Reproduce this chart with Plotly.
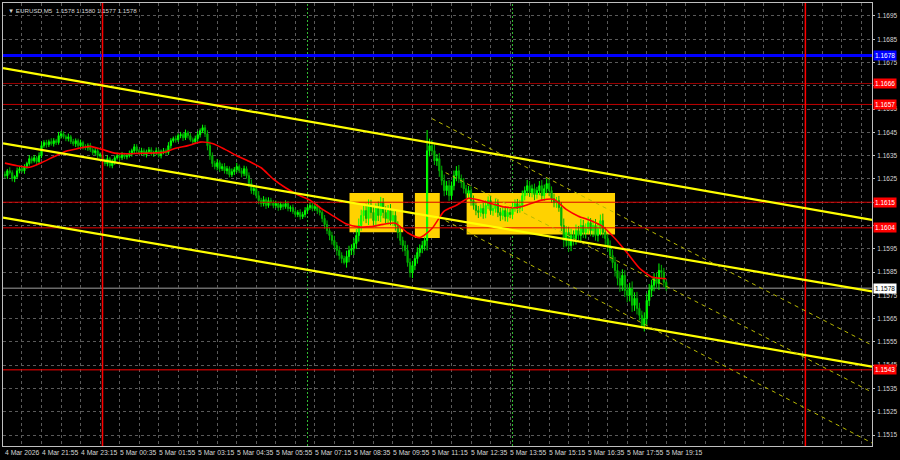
import plotly.graph_objects as go
import pandas as pd

# ---------------- data ----------------
FIRST_BAR = "2026-03-04 20:40"
BAR_MIN = 5
FIRST_OPEN = 1.16270

closes = [
    1.16264, 1.16285, 1.16277, 1.16251, 1.16260, 1.16285, 1.16294, 1.16285, 1.16303, 1.16316,
    1.16337, 1.16328, 1.16341, 1.16324, 1.16350, 1.16393, 1.16406, 1.16397, 1.16410, 1.16401,
    1.16414, 1.16406, 1.16436, 1.16444, 1.16431, 1.16423, 1.16431, 1.16410, 1.16401, 1.16414,
    1.16393, 1.16406, 1.16388, 1.16384, 1.16393, 1.16375, 1.16363, 1.16371, 1.16350, 1.16354,
    1.16328, 1.16316, 1.16337, 1.16307, 1.16324, 1.16341, 1.16350, 1.16341, 1.16354, 1.16345,
    1.16350, 1.16358, 1.16371, 1.16388, 1.16371, 1.16363, 1.16371, 1.16354, 1.16367, 1.16375,
    1.16358, 1.16363, 1.16371, 1.16350, 1.16367, 1.16371, 1.16363, 1.16393, 1.16414, 1.16423,
    1.16418, 1.16436, 1.16440, 1.16427, 1.16448, 1.16436, 1.16418, 1.16410, 1.16423, 1.16440,
    1.16457, 1.16470, 1.16444, 1.16393, 1.16350, 1.16316, 1.16303, 1.16320, 1.16294, 1.16303,
    1.16285, 1.16294, 1.16268, 1.16281, 1.16290, 1.16303, 1.16285, 1.16273, 1.16294, 1.16264,
    1.16230, 1.16200, 1.16208, 1.16178, 1.16157, 1.16144, 1.16161, 1.16136, 1.16157, 1.16148,
    1.16136, 1.16144, 1.16127, 1.16140, 1.16131, 1.16144, 1.16123, 1.16127, 1.16110, 1.16097,
    1.16106, 1.16088, 1.16097, 1.16114, 1.16127, 1.16136, 1.16123, 1.16131, 1.16114, 1.16106,
    1.16080, 1.16054, 1.16028, 1.16007, 1.15986, 1.15964, 1.15943, 1.15921, 1.15908, 1.15891,
    1.15917, 1.15943, 1.15951, 1.15973, 1.16007, 1.16050, 1.16093, 1.16114, 1.16080, 1.16136,
    1.16106, 1.16071, 1.16123, 1.16093, 1.16148, 1.16106, 1.16080, 1.16114, 1.16071, 1.16093,
    1.16050, 1.16020, 1.15986, 1.15964, 1.15943, 1.15891, 1.15848, 1.15878, 1.15908, 1.15934,
    1.15951, 1.15964, 1.15986, 1.16371, 1.16393, 1.16371, 1.16328, 1.16337, 1.16285, 1.16243,
    1.16200, 1.16221, 1.16178, 1.16221, 1.16264, 1.16285, 1.16251, 1.16234, 1.16208, 1.16187,
    1.16200, 1.16157, 1.16136, 1.16114, 1.16106, 1.16123, 1.16101, 1.16136, 1.16157, 1.16114,
    1.16123, 1.16144, 1.16106, 1.16093, 1.16114, 1.16088, 1.16106, 1.16097, 1.16127, 1.16144,
    1.16123, 1.16136, 1.16178, 1.16200, 1.16221, 1.16191, 1.16208, 1.16183, 1.16200, 1.16221,
    1.16178, 1.16208, 1.16230, 1.16200, 1.16165, 1.16148, 1.16157, 1.16127, 1.16050, 1.15986,
    1.16020, 1.15964, 1.16007, 1.15994, 1.16028, 1.16007, 1.16050, 1.16020, 1.16037, 1.16062,
    1.16028, 1.16050, 1.16007, 1.16037, 1.16071, 1.16020, 1.15994, 1.15964, 1.15921, 1.15891,
    1.15857, 1.15823, 1.15793, 1.15836, 1.15771, 1.15750, 1.15780, 1.15707, 1.15737, 1.15694,
    1.15664, 1.15621, 1.15651, 1.15728, 1.15771, 1.15793, 1.15823, 1.15801, 1.15857, 1.15848,
    1.15806, 1.15780,
]

# upper / lower shadow lengths in points (0.00001)
up_wick = [
    12, 8, 15, 10, 6, 14, 9, 12, 10, 8,
    15, 10, 12, 8, 14, 18, 10, 12, 9, 15,
    11, 8, 16, 12, 10, 9, 14, 8, 12, 10,
    9, 13, 8, 11, 10, 12, 9, 14, 8, 10,
    12, 9, 15, 8, 11, 10, 13, 9, 12, 8,
    10, 14, 9, 12, 11, 8, 13, 10, 9, 12,
    11, 8, 14, 10, 9, 12, 10, 15, 11, 9,
    13, 10, 12, 8, 14, 9, 11, 10, 13, 15,
    10, 13, 12, 15, 18, 14, 12, 16, 10, 13,
    15, 12, 10, 14, 11, 16, 9, 12, 13, 10,
    14, 18, 12, 16, 20, 12, 15, 10, 14, 12,
    11, 13, 9, 12, 10, 14, 11, 9, 13, 12,
    10, 14, 12, 15, 11, 13, 10, 16, 12, 14,
    12, 15, 18, 14, 16, 20, 15, 18, 14, 12,
    25, 20, 18, 22, 28, 30, 25, 22, 30, 26,
    24, 28, 22, 30, 25, 20, 26, 24, 28, 22,
    20, 18, 22, 16, 20, 24, 18, 20, 16, 22,
    18, 20, 16, 89, 30, 25, 28, 20, 24, 22,
    26, 20, 24, 18, 22, 20, 25, 18, 20, 16,
    20, 18, 22, 15, 20, 18, 24, 22, 18, 20,
    16, 22, 18, 20, 15, 18, 20, 16, 22, 18,
    20, 24, 22, 18, 25, 20, 18, 22, 16, 20,
    24, 18, 22, 20, 18, 22, 16, 20, 24, 30,
    28, 25, 30, 22, 26, 20, 28, 24, 22, 26,
    20, 24, 28, 22, 26, 30, 24, 20, 22, 26,
    24, 28, 30, 26, 22, 28, 24, 30, 26, 28,
    24, 20, 26, 30, 28, 24, 22, 26, 30, 24,
    20, 8,
]
dn_wick = [
    10, 14, 8, 12, 15, 9, 11, 8, 13, 10,
    9, 12, 8, 14, 10, 11, 9, 13, 10, 8,
    12, 10, 9, 13, 8, 11, 12, 10, 9, 14,
    11, 8, 12, 10, 13, 9, 11, 10, 12, 8,
    14, 10, 12, 9, 11, 13, 8, 12, 10, 9,
    11, 8, 12, 10, 14, 9, 11, 8, 12, 10,
    9, 13, 10, 8, 12, 11, 9, 10, 13, 8,
    12, 9, 11, 14, 10, 12, 8, 11, 9, 10,
    12, 10, 14, 20, 18, 15, 12, 16, 14, 10,
    12, 15, 11, 10, 14, 12, 10, 16, 11, 13,
    15, 14, 18, 12, 16, 14, 12, 15, 10, 13,
    12, 10, 14, 11, 13, 9, 12, 14, 10, 12,
    11, 13, 10, 12, 14, 10, 12, 11, 15, 13,
    16, 18, 15, 20, 18, 16, 22, 18, 20, 8,
    22, 25, 20, 28, 24, 26, 22, 25, 20, 28,
    26, 22, 30, 24, 28, 25, 22, 26, 20, 24,
    22, 25, 20, 26, 24, 18, 21, 24, 20, 22,
    18, 20, 22, 43, 24, 20, 18, 22, 26, 20,
    24, 20, 22, 18, 20, 24, 18, 22, 20, 18,
    20, 22, 18, 20, 24, 18, 22, 20, 16, 18,
    22, 18, 20, 24, 18, 20, 22, 16, 20, 18,
    20, 18, 24, 20, 22, 18, 20, 24, 18, 20,
    18, 22, 20, 24, 18, 20, 22, 18, 24, 30,
    26, 28, 24, 30, 26, 22, 28, 24, 26, 22,
    24, 28, 22, 26, 30, 24, 28, 26, 22, 24,
    26, 30, 28, 24, 28, 30, 26, 28, 24, 26,
    22, 13, 26, 30, 24, 28, 26, 22, 28, 24,
    20, 12,
]

# moving average (read every 5th bar + last bar)
ma_bar = list(range(0, 271, 5)) + [271]
ma_vals = [
    1.16318, 1.16307, 1.16300, 1.16320, 1.16345, 1.16369, 1.16381, 1.16390, 1.16376, 1.16361,
    1.16358, 1.16360, 1.16361, 1.16364, 1.16382, 1.16393, 1.16408, 1.16402, 1.16378, 1.16350,
    1.16326, 1.16298, 1.16249, 1.16212, 1.16182, 1.16159, 1.16120, 1.16088, 1.16056, 1.16044,
    1.16045, 1.16055, 1.16060, 1.16019, 1.15998, 1.16037, 1.16112, 1.16137, 1.16167, 1.16157,
    1.16142, 1.16129, 1.16127, 1.16142, 1.16159, 1.16162, 1.16119, 1.16090, 1.16071, 1.16045,
    1.15994, 1.15932, 1.15867, 1.15829, 1.15822, 1.15821,
]

# horizontal levels
blue_level = 1.1678
red_levels = [1.1666, 1.1657, 1.1615, 1.1604, 1.1543]
red_level_colors = ["#9a0000", "#c00000", "#d80000", "#e80000", "#ff0000"]
bid_price = 1.1578

# vertical lines
day_lines = ["2026-03-05 00:00", "2026-03-06 00:00"]
session_lines = ["2026-03-05 07:00", "2026-03-05 14:00"]

# yellow zones
zone_t0 = ["2026-03-05 08:26", "2026-03-05 10:40", "2026-03-05 12:26"]
zone_t1 = ["2026-03-05 10:16", "2026-03-05 11:31", "2026-03-05 17:30"]
zone_lo = [1.16021, 1.15996, 1.16011]
zone_hi = [1.16190, 1.16190, 1.16190]

# view window
view_t0 = "2026-03-04 20:36:06"
view_t1 = "2026-03-06 02:16:30"
view_p0 = 1.151029
view_p1 = 1.170057

# trend channel (solid yellow), endpoints at window edges
trend_p0 = [1.16726, 1.16403, 1.16084]
trend_p1 = [1.16074, 1.15767, 1.15444]

# steep dashed channel
dash_t0 = ["2026-03-05 11:15", "2026-03-05 11:43", "2026-03-05 11:43"]
dash_p0 = [1.16509, 1.16277, 1.16071]
dash_p1 = [1.15536, 1.15334, 1.15116]

price_ticks = [round(1.1515 + 0.001 * k, 4) for k in range(19)]
hidden_price_ticks = [1.1605, 1.1615, 1.1665]   # covered by level tags in the reference
time_label_bars = [0] + [15 + 16 * k for k in range(17)]
time_labels = ["4 Mar 2026", "4 Mar 21:55", "4 Mar 23:15", "5 Mar 00:35", "5 Mar 01:55",
               "5 Mar 03:15", "5 Mar 04:35", "5 Mar 05:55", "5 Mar 07:15", "5 Mar 08:35",
               "5 Mar 09:55", "5 Mar 11:15", "5 Mar 12:35", "5 Mar 13:55", "5 Mar 15:15",
               "5 Mar 16:35", "5 Mar 17:55", "5 Mar 19:15"]
grid_bars = [7 + 8 * k for k in range(44)]
title_text = "▼ EURUSD,M5  1.1578 1.1580 1.1577 1.1578"

# ---------------- build ----------------
t0 = pd.Timestamp(FIRST_BAR)
step = pd.Timedelta(minutes=BAR_MIN)
times = [t0 + step * i for i in range(len(closes))]
opens = [FIRST_OPEN] + closes[:-1]
highs = [max(o, c) + w * 1e-5 for o, c, w in zip(opens, closes, up_wick)]
lows = [min(o, c) - w * 1e-5 for o, c, w in zip(opens, closes, dn_wick)]

FONT = "Liberation Sans"
TXT = "#d4d4d4"
GRID = "#5a5a5a"
BORDER = "#bfbfbf"

fig = go.Figure()
fig.add_trace(go.Candlestick(
    x=times, open=opens, high=highs, low=lows, close=closes,
    increasing=dict(line=dict(color="#00ff00", width=1), fillcolor="#00ff00"),
    decreasing=dict(line=dict(color="#00b000", width=1), fillcolor="#00b000"),
    whiskerwidth=0, hoverinfo="skip", showlegend=False,
))
fig.add_trace(go.Scatter(
    x=[times[i] for i in ma_bar], y=ma_vals, mode="lines",
    line=dict(color="#ff0000", width=1.6, shape="spline", smoothing=0.6),
    hoverinfo="skip", showlegend=False,
))

shapes = []
for a, b, lo, hi in zip(zone_t0, zone_t1, zone_lo, zone_hi):
    shapes.append(dict(type="rect", xref="x", yref="y", x0=a, x1=b, y0=lo, y1=hi,
                       fillcolor="#ffd200", line=dict(width=0), layer="between"))
# bid line
shapes.append(dict(type="line", xref="paper", yref="y", x0=0, x1=1, y0=bid_price, y1=bid_price,
                   line=dict(color="#6a6a6a", width=1.5), layer="between"))
for lv, col in zip(red_levels, red_level_colors):
    shapes.append(dict(type="line", xref="paper", yref="y", x0=0, x1=1, y0=lv, y1=lv,
                       line=dict(color=col, width=1), layer="above"))
shapes.append(dict(type="line", xref="paper", yref="y", x0=0, x1=1, y0=blue_level, y1=blue_level,
                   line=dict(color="#0000ff", width=3), layer="above"))
for d in day_lines:
    shapes.append(dict(type="line", xref="x", yref="paper", x0=d, x1=d, y0=0, y1=1,
                       line=dict(color="#ff0000", width=1.5), layer="above"))
for d in session_lines:
    shapes.append(dict(type="line", xref="x", yref="paper", x0=d, x1=d, y0=0, y1=1,
                       line=dict(color="#33bb33", width=1, dash="2px,2px"), layer="between"))
for p0, p1 in zip(trend_p0, trend_p1):
    shapes.append(dict(type="line", xref="x", yref="y", x0=view_t0, x1=view_t1, y0=p0, y1=p1,
                       line=dict(color="#ffff00", width=2.2), layer="above"))
for a, p0, p1 in zip(dash_t0, dash_p0, dash_p1):
    shapes.append(dict(type="line", xref="x", yref="y", x0=a, x1=view_t1, y0=p0, y1=p1,
                       line=dict(color="#b8b800", width=1, dash="4px,4px"), layer="above"))

annotations = []
for i, lab in zip(time_label_bars, time_labels):
    annotations.append(dict(x=times[i], xref="x", y=0, yref="paper", text=lab,
                            xanchor="left", yanchor="top", xshift=-2, yshift=-1,
                            showarrow=False, font=dict(family=FONT, size=6.8, color=TXT)))
annotations.append(dict(x=0, xref="paper", y=1, yref="paper", text=title_text,
                        xanchor="left", yanchor="top", xshift=3, yshift=-2,
                        showarrow=False, font=dict(family=FONT, size=6.2, color=TXT)))


def price_tag(p, bg, fg):
    return dict(x=1, xref="paper", y=p, yref="y", text=f"{p:.4f}", xanchor="left",
                yanchor="middle", xshift=1, showarrow=False, bgcolor=bg, borderpad=1,
                font=dict(family=FONT, size=6.5, color=fg))


annotations.append(price_tag(blue_level, "#0000ff", "#ffffff"))
for lv in red_levels:
    annotations.append(price_tag(lv, "#ff0000", "#ffffff"))
annotations.append(price_tag(bid_price, "#ffffff", "#000000"))

tick_text = ["" if v in hidden_price_ticks else f"{v:.4f}" for v in price_ticks]

fig.update_layout(
    width=900, height=460,
    margin=dict(l=2, r=25, t=2, b=14),
    paper_bgcolor="#000000", plot_bgcolor="#000000",
    showlegend=False, shapes=shapes, annotations=annotations,
    xaxis=dict(
        type="date", range=[view_t0, view_t1], rangeslider=dict(visible=False),
        tickvals=[t0 + step * i for i in grid_bars], showticklabels=False, ticks="",
        showgrid=True, gridcolor=GRID, griddash="3px,3px", gridwidth=1,
        showline=True, mirror=True, linecolor=BORDER, linewidth=1, zeroline=False,
    ),
    yaxis=dict(
        side="right", range=[view_p0, view_p1], tickvals=price_ticks,
        ticktext=tick_text, ticks="outside", ticklen=2,
        tickcolor=BORDER, tickfont=dict(family=FONT, size=6.5, color=TXT),
        ticklabelstandoff=1,
        showgrid=True, gridcolor=GRID, griddash="3px,3px", gridwidth=1,
        showline=True, mirror=True, linecolor=BORDER, linewidth=1, zeroline=False,
    ),
)

fig.write_html(
    "out.html",
    config={"displayModeBar": False},
    post_script="document.body.style.margin='0px';document.body.style.overflow='hidden';"
                "document.body.style.background='#000';",
)
